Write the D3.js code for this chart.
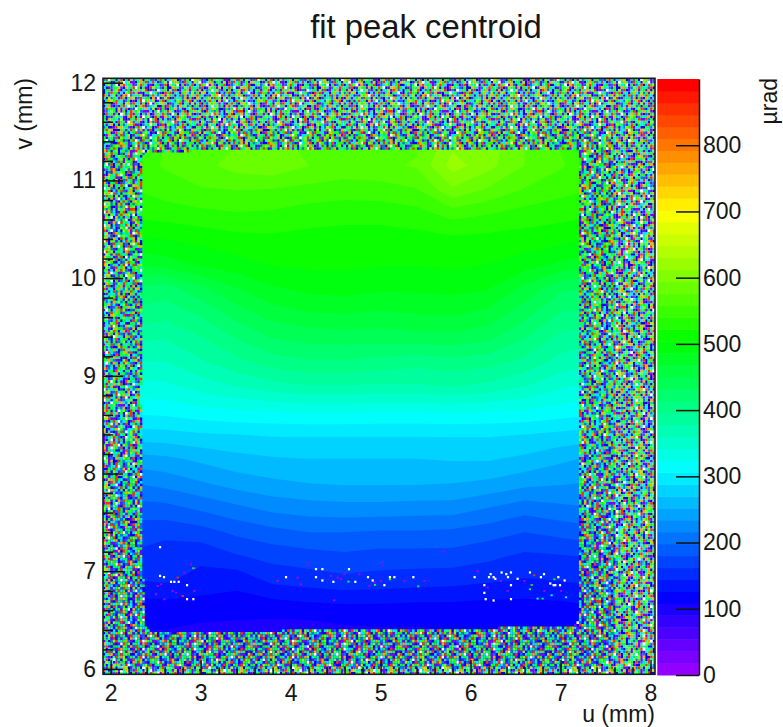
<!DOCTYPE html>
<html>
<head>
<meta charset="utf-8">
<script src="https://cdn.jsdelivr.net/npm/d3@7"></script>
<style>
html,body{margin:0;padding:0;background:#fff;}
svg{display:block;font-family:"Liberation Sans",Arial,sans-serif;}
text{fill:#161616;}
</style>
</head>
<body>
<svg id="c" width="783" height="727"></svg>
<script>
// Values.
const titleText = "fit peak centroid";
const xTitle = "u (mm)";
const yTitle = "v (mm)";
const zTitle = "µrad";
const uTicks = [2,3,4,5,6,7,8];
const vTicks = [6,7,8,9,10,11,12];
const zTicks = [0,100,200,300,400,500,600,700,800];

// Fit centroid (µrad) estimated from the colours on a coarse grid.
const fieldU = [2.2,2.6,3.0,3.4,3.8,4.2,4.6,5.0,5.4,5.8,6.2,6.6,7.0,7.4];
const fieldV = [11.4,11.15,10.9,10.65,10.4,10.15,9.9,9.65,9.4,9.15,8.9,8.65,8.4,8.15,7.9,7.65,7.4,7.15,6.9,6.65,6.4,6.15];
const fieldRows = [
[548,558,566,574,580,572,566,566,572,606,604,576,556,546],
[546,560,570,584,590,576,570,572,578,620,600,576,560,546],
[538,548,556,558,556,552,548,550,556,590,572,556,546,538],
[526,530,534,538,536,530,528,528,532,546,540,532,528,524],
[500,504,510,516,518,516,514,514,516,518,516,514,510,502],
[470,478,490,498,506,508,508,506,506,508,504,496,484,474],
[430,424,446,468,484,492,494,490,490,492,488,464,436,430],
[410,404,418,442,460,468,470,466,470,472,464,440,414,408],
[384,380,396,416,434,440,442,442,444,446,438,416,392,386],
[360,360,376,392,406,412,412,408,404,408,404,392,372,362],
[336,338,350,362,372,378,378,376,376,380,374,362,346,336],
[312,314,320,324,326,328,328,326,326,328,326,324,318,312],
[280,282,286,288,290,290,290,290,290,290,290,288,284,280],
[244,248,256,264,268,270,270,270,270,272,272,266,256,248],
[215,222,232,242,248,252,254,254,254,252,248,240,236,232],
[190,192,202,212,222,226,228,228,226,226,216,206,212,216],
[170,168,172,184,192,198,198,196,196,194,188,180,186,192],
[160,150,148,160,168,172,176,172,172,172,166,158,160,164],
[142,146,138,130,148,152,156,154,152,150,146,142,144,148],
[118,120,118,120,118,122,124,124,122,122,120,120,122,126],
[108,108,104,100,100,98,104,106,106,108,108,110,112,114],
[106,104,100,98,96,96,100,102,104,104,106,108,110,112]
];

const edge = [[2.348,11.25],[2.392,11.291],[2.992,11.301],[5.214,11.311],[7.148,11.321],[7.192,11.28],[7.203,9.776],[7.214,7.729],[7.203,6.5],[7.137,6.438],[5.214,6.397],[2.437,6.387],[2.381,6.438],[2.359,7.114],[2.337,8.752]];

// Empty (white) bins and stray coloured bins inside the square.
const whiteBins = [[2.537,7.258],[2.537,6.964],[2.581,6.951],[2.659,6.903],[2.696,6.903],[2.744,6.903],[2.837,6.869],[2.837,6.726],[2.907,6.726],[3.937,6.951],[4.27,7.033],[4.341,7.033],[4.27,6.951],[4.341,6.917],[4.463,6.903],[4.637,7.033],[4.707,6.903],[4.848,6.951],[4.9,6.917],[5.092,6.951],[5.141,6.951],[5.352,6.951],[5.03,6.869],[6.033,6.951],[6.141,6.869],[6.141,6.79],[6.156,6.726],[6.193,6.951],[6.211,6.982],[6.244,6.951],[6.263,6.934],[6.244,6.712],[6.333,6.999],[6.385,6.982],[6.437,6.999],[6.404,6.951],[6.511,6.934],[6.437,6.869],[6.437,6.726],[6.648,6.999],[6.804,6.982],[6.77,6.951],[6.874,6.886],[6.911,6.869],[6.93,6.869],[6.963,6.951],[6.982,6.869],[7.033,6.917]];
const strayBins = [[2.548,6.876,40],[2.511,6.859,40],[2.492,6.773,40],[2.715,6.79,40],[2.677,6.808,40],[2.789,6.756,860],[2.881,7.08,40],[2.807,6.995,40],[2.733,6.944,860],[2.929,7.04,40],[2.907,7.04,470],[2.918,6.808,40],[2.585,6.722,40],[3.844,6.91,40],[4.066,6.944,40],[4.103,6.876,40],[4.178,7.08,40],[4.437,6.961,40],[4.511,6.944,40],[4.548,6.927,40],[4.585,6.978,40],[4.752,6.978,40],[4.919,6.893,40],[4.863,6.859,40],[5.011,7.08,40],[4.992,6.91,40],[5.252,6.91,40],[5.474,6.91,40],[5.696,7.21,40],[4.474,6.712,40],[6.067,7.012,40],[6.178,6.842,40],[6.326,6.91,40],[6.585,6.91,40],[6.696,6.968,860],[6.919,6.927,500],[6.667,6.869,500],[6.648,6.825,500],[6.733,6.729,320],[6.789,6.729,500],[6.889,6.763,320],[7.048,6.743,320],[4.63,6.903,500],[4.926,6.869,500],[5.092,6.927,500],[5.407,6.855,500],[6.807,6.808,40],[6.993,6.808,40],[6.4,6.808,40]];

// Unfittable background: a hand-copied sample of the speckle, one character per bin
// (0-9 = index into speckleValues, w = empty). It is an approximate sample, not a bin-by-bin reading.
const speckleValues = [30,120,200,300,400,480,530,600,760,860];
const speckle = [
"1450291735w16024913957w08214591023750369114725w18936402795310",
"9312570w48620953174w02386154071929350261873410596w37001485923",
"2059413387105261w78402159373600148295173029w64139150725381462",
"6130758249w35002472915360184397w50116495328071430952146097315",
"0743192560318497201536w94120853761902439w50263714058923106472",
"3915w26174009358142675310249801537260419351270w84613025139760",
"5201493871263059w04928713540162935470811952436015793w40861397",
"1368025947511302796401385w29146073w50218437560912136485200179",
"4092715w60849125037196402851329507461035918w24300715293846101",
"7135209846310591w27360081954213706159w43510827496031352190645",
"2901563174082953610473w19580137462905351140926837150w93201578",
"8346010w95714630892151042379561203804w76291305914726035841293",
"0512793468201539w74600238951471362500948w17629105385240117964",
"6240915037183w61290537814026951035172894031526w97010369258143",
"3179502641095380217w69153102674983015w03961747285103941602570",
"1504386w91740513962807142530119846023795210w34891507621490365",
"5920314760283195044817396w25137602159w40936147205389160w73418",
"0273169584012w47359012835146290753814010692w37941362085179204",
"9416025370198623540w79621083504924710358w62033579410627951380",
"2081735904w21317580492603571094826135920473101w82964301785629",
"7350192864031075w29143205978111640395w28040913625170349w61208",
"1642705w38140253971608342511097836201594w23610948051327690341",
"4095217361082w94531076294038151623779001245w63109175420396153",
"6317402985107326w10859126305319450w82460131829057364w92501473",
"0925136074w18250361470295184632701054938261w59140302618745390",
"3581940261730594872w13695120474301896150w47219600853129476025",
"1206375w98231069154827301946051w72490631528104739520w61384970",
"8470193526041738209915w40237518061394572000316w25497310259164",
"2139604875110526w94703182965417039120w45383271906015482301379",
"5602914w37261893015267491380120593w64158902437116095230847251",
"0391527684030149621875w32461093517829430619w05378410246913507",
"7215049361805w23196403021587694302610149w58371069154327605891",
"1840367295417060132w85304172630951487029365180w12791053428160",
"4953120768w92314578610249603715189w24367101593268075413926048",
"2607813549130692048153w01429650317592800145w36201959043168327",
"6081425w37205161347098231560479132506384791020w36417291035804",
"3529107460816395w10784953102647018359w61401975320611864027395"
];

const uDomain = [1.915, 8.05], vDomain = [5.945, 12.045], zDomain = [0, 900];
const nBins = 225, nBands = 50;
const speckW = 2.2, speckH = 2.3;
const x = d3.scaleLinear().domain(uDomain).range([103, 655]);
const y = d3.scaleLinear().domain(vDomain).range([674.3, 78.3]);
const z = d3.scaleLinear().domain(zDomain).range([675, 79]);
const bandStep = zDomain[1] / nBands;
// ROOT "rainbow" palette: 50 fully saturated hues from violet to red.
const bandColor = i => d3.hsl(280 - (i + 1) * 5.6, 1, 0.5).formatHex();
const valueColor = v => bandColor(Math.max(0, Math.min(nBands - 1, Math.floor(v / bandStep))));

const svg = d3.select("#c");
const defs = svg.append("defs");
defs.append("clipPath").attr("id", "plot").append("rect")
  .attr("x", x(uDomain[0])).attr("y", y(vDomain[1]))
  .attr("width", x(uDomain[1]) - x(uDomain[0])).attr("height", y(vDomain[0]) - y(vDomain[1]));
defs.append("filter").attr("id", "soft").attr("x", "-2%").attr("y", "-2%").attr("width", "104%").attr("height", "104%")
  .attr("color-interpolation-filters", "sRGB")
  .append("feGaussianBlur").attr("stdDeviation", 0.4);

const plot = svg.append("g").attr("clip-path", "url(#plot)");

// Field: filled contours, one per colour band, painted from low to high.
const stepU = fieldU[1] - fieldU[0], stepV = fieldV[1] - fieldV[0];
const contours = d3.contours().size([fieldU.length, fieldV.length])
  .thresholds(d3.range(0, nBands).map(i => i * bandStep))(fieldRows.flat());
const geo = d3.geoPath(d3.geoTransform({
  point(gx, gy) {
    this.stream.point(x(fieldU[0] + (gx - 0.5) * stepU), y(fieldV[0] + (gy - 0.5) * stepV));
  }
}));
plot.append("g").selectAll("path").data(contours).join("path")
  .attr("d", geo)
  .attr("fill", d => valueColor(d.value + 1));

// Bins
const binU = (uDomain[1] - uDomain[0]) / nBins, binV = (vDomain[1] - vDomain[0]) / nBins;
const binW = x(uDomain[0] + binU) - x(uDomain[0]), binH = y(vDomain[0]) - y(vDomain[0] + binV);
const paths = new Map();
for (let j = 0; j < nBins; j++) {
  for (let i = 0; i < nBins; i++) {
    const u = uDomain[0] + (i + 0.5) * binU, v = vDomain[0] + (j + 0.5) * binV;
    if (d3.polygonContains(edge, [u, v])) continue;
    const rowStr = speckle[j % speckle.length];
    const ch = rowStr[(i + 17 * Math.floor(j / speckle.length)) % rowStr.length];
    if (!paths.has(ch)) paths.set(ch, d3.path());
    paths.get(ch).rect(x(uDomain[0] + i * binU), y(vDomain[0] + (j + 1) * binV), binW, binH);
  }
}
const noise = plot.append("g").attr("filter", "url(#soft)");
noise.selectAll("path.n").data(Array.from(paths.entries())).join("path").attr("class", "n")
  .attr("d", d => d[1].toString())
  .attr("fill", d => d[0] === "w" ? "#ffffff" : valueColor(speckleValues[+d[0]]));

const inner = plot.append("g").attr("filter", "url(#soft)");
inner.selectAll("rect.s").data(strayBins).join("rect").attr("class", "s")
  .attr("x", d => x(d[0])).attr("y", d => y(d[1])).attr("width", speckW).attr("height", speckH * 0.8)
  .attr("fill", d => d[2] < 100 ? "#b000e0" : valueColor(d[2]));
inner.selectAll("rect.w").data(whiteBins).join("rect").attr("class", "w")
  .attr("x", d => x(d[0])).attr("y", d => y(d[1])).attr("width", speckW).attr("height", speckH)
  .attr("fill", "#fff");

// Frame and axes
const frame = svg.append("g");
frame.append("rect").attr("x", x.range()[0]).attr("y", y.range()[1])
  .attr("width", x.range()[1] - x.range()[0]).attr("height", y.range()[0] - y.range()[1])
  .attr("fill", "none").attr("stroke", "#1a1a1a").attr("stroke-width", 1.6);

const fontSize = 23;
const minorsOf = (ticks) => d3.range(ticks[0] * 5, ticks[ticks.length - 1] * 5 + 1).map(d => d / 5).filter(d => !ticks.includes(d));

function styleAxis(g) {
  g.select(".domain").remove();
  g.selectAll("line").attr("stroke", "#111").attr("stroke-width", 1.5);
  g.selectAll("text").attr("font-size", fontSize).attr("font-family", "'Liberation Sans',Arial,sans-serif").attr("fill", "#161616");
}
svg.append("g").attr("transform", `translate(0,${y.range()[0]})`)
  .call(d3.axisBottom(x).tickValues(uTicks).tickFormat(d3.format("d")).tickSizeInner(-14).tickSizeOuter(0).tickPadding(10))
  .call(styleAxis);
svg.append("g").attr("transform", `translate(0,${y.range()[0]})`)
  .call(d3.axisBottom(x).tickValues(minorsOf(uTicks)).tickFormat("").tickSizeInner(-7).tickSizeOuter(0))
  .call(styleAxis);
svg.append("g").attr("transform", `translate(${x.range()[0]},0)`)
  .call(d3.axisLeft(y).tickValues(vTicks).tickFormat(d3.format("d")).tickSizeInner(-20).tickSizeOuter(0).tickPadding(7))
  .call(styleAxis);
svg.append("g").attr("transform", `translate(${x.range()[0]},0)`)
  .call(d3.axisLeft(y).tickValues(minorsOf(vTicks)).tickFormat("").tickSizeInner(-10).tickSizeOuter(0))
  .call(styleAxis);

// Colour bar
const barX0 = 657.3, barX1 = 699;
svg.append("g").selectAll("rect").data(d3.range(nBands)).join("rect")
  .attr("x", barX0).attr("width", barX1 - barX0)
  .attr("y", i => z((i + 1) * bandStep)).attr("height", i => z(i * bandStep) - z((i + 1) * bandStep) + 0.5)
  .attr("fill", bandColor);
const zAxis = svg.append("g").attr("transform", `translate(${barX1},0)`)
  .call(d3.axisRight(z).tickValues(zTicks).tickSizeInner(-23).tickSizeOuter(0).tickPadding(4));
zAxis.call(g => { g.selectAll(".tick line").attr("stroke", "#111").attr("stroke-width", 1.5);
  g.select(".domain").attr("stroke", "#111").attr("stroke-width", 1.5);
  g.selectAll("text").attr("font-size", fontSize).attr("font-family", "'Liberation Sans',Arial,sans-serif").attr("fill", "#161616"); });

// Titles
svg.append("text").attr("x", 426).attr("y", 38).attr("text-anchor", "middle").attr("font-size", 32.8).text(titleText);
svg.append("text").attr("x", 655).attr("y", 722).attr("text-anchor", "end").attr("font-size", fontSize).text(xTitle);
svg.append("text").attr("transform", "translate(32,78) rotate(-90)").attr("text-anchor", "end").attr("font-size", fontSize).text(yTitle);
svg.append("text").attr("transform", "translate(777,78) rotate(-90)").attr("text-anchor", "end").attr("font-size", fontSize).text(zTitle);
</script>
</body>
</html>
